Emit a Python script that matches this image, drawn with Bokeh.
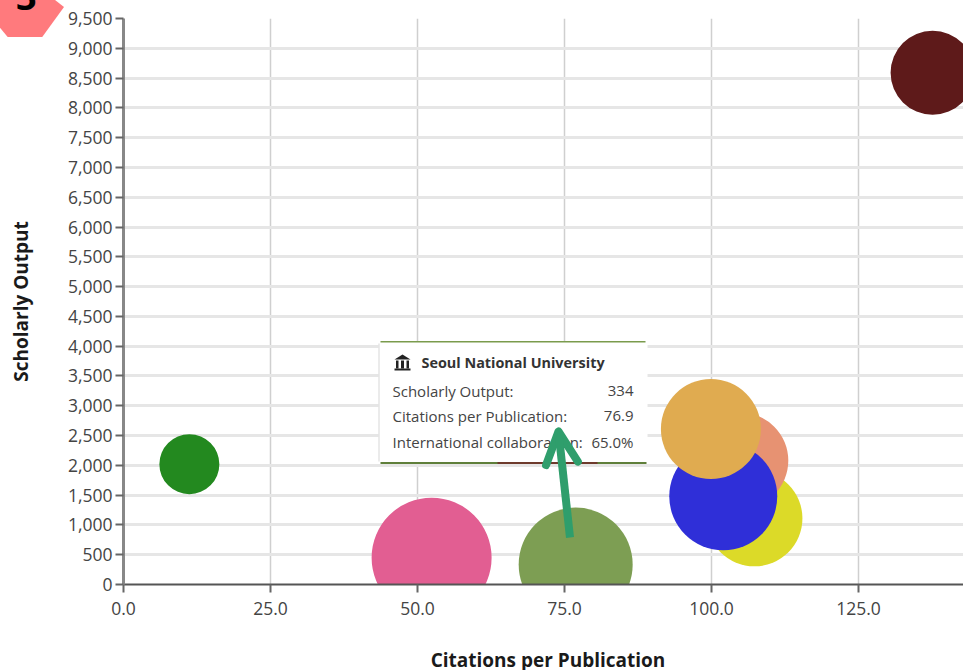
from bokeh.plotting import figure
from bokeh.layouts import column
from bokeh.models import (ColumnDataSource, FixedTicker, NumeralTickFormatter, Range1d, Label,
                          BoxAnnotation, PolyAnnotation, Arrow, OpenHead, Div)
from bokeh.embed import file_html
from bokeh.resources import INLINE

# ---- data -------------------------------------------------------------
citations = [137.6, 11.2, 52.4, 76.9, 107.3, 104.9, 102.0, 99.9]
output = [8590, 2020, 450, 334, 1110, 2080, 1480, 2610]
diameters = [84, 60, 120, 114, 96, 96, 108, 100]
colors = ["#5e1a1a", "#23891f", "#e25e92", "#7d9e53", "#dcda28", "#e79272", "#2f2fd8", "#e0ab50"]
x_ticks = [0, 25, 50, 75, 100, 125]
y_ticks = list(range(0, 10000, 500))
tip_title = "Seoul National University"
tip_labels = ["Scholarly Output:", "Citations per Publication:", "International collaboration:"]
tip_values = ["334", "76.9", "65.0%"]

FONT = "Open Sans"
X_END = 840 / 5.88
LEFT, TOP, FW, FH = 123, 18, 840, 566


def X(px):
    return (px - LEFT) / 5.88


def Y(py):
    return (TOP + FH - py) * 9500 / FH


p = figure(width=963, height=670, output_backend="svg", toolbar_location=None,
           x_range=Range1d(0, X_END), y_range=Range1d(0, 9500),
           min_border_left=LEFT, min_border_right=0, min_border_top=TOP, min_border_bottom=670 - TOP - FH)
p.outline_line_color = None
p.background_fill_color = "white"

p.xgrid.ticker = FixedTicker(ticks=x_ticks)
p.ygrid.ticker = FixedTicker(ticks=y_ticks)
p.xgrid.grid_line_color = "#cfcfcf"
p.xgrid.grid_line_width = 1.5
p.ygrid.grid_line_color = "#e6e6e6"
p.ygrid.grid_line_width = 3

for ax, ticks, fmt in ((p.xaxis[0], x_ticks, "0.0"), (p.yaxis[0], y_ticks, "0,0")):
    ax.ticker = FixedTicker(ticks=ticks)
    ax.formatter = NumeralTickFormatter(format=fmt)
    ax.major_label_text_font = FONT
    ax.major_label_text_font_size = "17.5px"
    ax.major_label_text_color = "#444444"
    ax.axis_label_text_font = FONT
    ax.axis_label_text_font_size = "19px"
    ax.axis_label_text_font_style = "bold"
    ax.axis_label_text_color = "#1a1a1a"
    ax.major_tick_in = 0
    ax.major_tick_out = 8
    ax.major_tick_line_color = "#666666"
    ax.major_tick_line_width = 2
    ax.minor_tick_line_color = None
p.yaxis[0].axis_label = "Scholarly Output"
p.xaxis[0].axis_line_color = "#555555"
p.xaxis[0].axis_line_width = 2
p.yaxis[0].axis_line_color = "#888888"
p.yaxis[0].axis_line_width = 3
p.xaxis[0].major_label_standoff = 9
p.yaxis[0].major_label_standoff = 3
p.yaxis[0].axis_label_standoff = 31

src = ColumnDataSource(dict(x=citations, y=output, size=diameters, color=colors))
p.scatter("x", "y", size="size", color="color", line_color=None, source=src)

# ---- tooltip ----------------------------------------------------------
p.add_layout(BoxAnnotation(left=X(378), right=X(647), top=Y(341), bottom=Y(463),
                           fill_color="white", fill_alpha=1, line_color=None,
                           border_radius=4, level="overlay"))
for l, r, t, b, c in ((380, 645, 340.5, 342, "#7a9b4d"), (378, 379, 343, 461, "#d8d8d8"),
                      (380, 646, 461.5, 463.5, "#5f7f3a"), (497, 597, 461.5, 463.5, "#6e3a2c")):
    p.add_layout(BoxAnnotation(left=X(l), right=X(r), top=Y(t), bottom=Y(b),
                               fill_color=c, fill_alpha=1, line_color=None, level="overlay"))
# museum icon
p.add_layout(PolyAnnotation(xs=[X(394), X(402), X(410)], ys=[Y(359), Y(354), Y(359)],
                            fill_color="#222222", fill_alpha=1, line_color=None, level="overlay"))
for l, r, t, b in ((394, 410, 368, 370), (395.5, 398, 360, 368), (400.5, 403.5, 360, 368), (406, 408.5, 360, 368)):
    p.add_layout(BoxAnnotation(left=X(l), right=X(r), top=Y(t), bottom=Y(b), fill_color="#222222",
                               fill_alpha=1, line_color=None, level="overlay"))

p.add_layout(Label(x=X(421), y=Y(362), text=tip_title, text_font=FONT, text_font_size="14.4px",
                   text_font_style="bold", text_color="#333333", text_baseline="middle", level="overlay"))
for name, val, py in zip(tip_labels, tip_values, (390, 415, 441)):
    p.add_layout(Label(x=X(392), y=Y(py), text=name, text_font=FONT, text_font_size="15px",
                       text_color="#444444", text_baseline="middle", level="overlay"))
    p.add_layout(Label(x=X(633), y=Y(py), text=val, text_font=FONT, text_font_size="15px",
                       text_color="#444444", text_baseline="middle", text_align="right", level="overlay"))

# ---- arrow ------------------------------------------------------------
p.add_layout(Arrow(x_start=X(569.5), y_start=Y(537), x_end=X(558), y_end=Y(431),
                   line_color="#2f9e6c", line_width=8, level="overlay",
                   end=OpenHead(size=32, line_color="#2f9e6c", line_width=8, line_cap="round", line_join="round")))

# ---- x axis title (placed by hand so the frame keeps its full height) --
x_title = Div(text="Citations per Publication", width=300, height=20, margin=0,
              styles={"position": "absolute", "left": "398px", "top": "650px", "text-align": "center",
                      "color": "#1a1a1a", "font-family": "Open Sans", "font-weight": "bold", "font-size": "19px",
                      "line-height": "20px", "white-space": "nowrap"})

# ---- step badge -------------------------------------------------------
badge = Div(text='<span style="position:relative;top:-3px">3</span>', width=64, height=37, margin=0,
            styles={"position": "absolute", "left": "0px", "top": "0px", "background": "#ff7a7d",
                    "clip-path": "polygon(0% 75%, 0% 0%, 86% 0%, 100% 19%, 66% 100%, 12% 100%)",
                    "color": "#000", "font-family": "Open Sans", "font-weight": "bold", "font-size": "36px",
                    "line-height": "0px", "padding-left": "16px", "overflow": "hidden", "box-sizing": "border-box"})

page = column(p, x_title, badge, spacing=0)
open("out.html", "w").write(file_html(page, INLINE))
